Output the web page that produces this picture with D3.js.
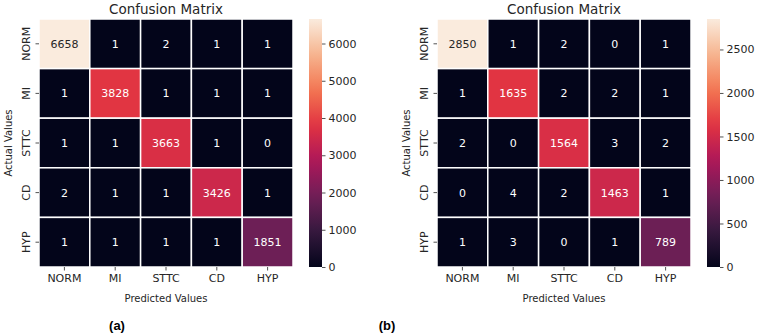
<!DOCTYPE html>
<html>
<head>
<meta charset="utf-8">
<script src="https://cdn.jsdelivr.net/npm/d3@7"></script>
<style>
  body { margin: 0; background: #fff; }
  svg text { font-family: "DejaVu Sans", sans-serif; fill: #262626; }
</style>
</head>
<body>
<div id="chart"></div>
<script>
// class labels (rows = actual, columns = predicted)
var classes = ["NORM", "MI", "STTC", "CD", "HYP"];

// confusion matrix (a)
var matrixA = [
  [6658, 1, 2, 1, 1],
  [1, 3828, 1, 1, 1],
  [1, 1, 3663, 1, 0],
  [2, 1, 1, 3426, 1],
  [1, 1, 1, 1, 1851]
];

// confusion matrix (b)
var matrixB = [
  [2850, 1, 2, 0, 1],
  [1, 1635, 2, 2, 1],
  [2, 0, 1564, 3, 2],
  [0, 4, 2, 1463, 1],
  [1, 3, 0, 1, 789]
];

var cbTicksA = [0, 1000, 2000, 3000, 4000, 5000, 6000];
var cbTicksB = [0, 500, 1000, 1500, 2000, 2500];
var panelLabels = ["(a)", "(b)"];

// seaborn "rocket" colormap stops
var rocketStops = ["#03051a", "#35193e", "#701f57", "#ad1759", "#e13342", "#f37651", "#f6b48f", "#faebdd"];
var rocket = d3.scaleLinear()
  .domain(d3.range(rocketStops.length).map(i => i / (rocketStops.length - 1)))
  .range(rocketStops)
  .interpolate(d3.interpolateRgb);

var svgWidth = 757, svgHeight = 335;
var svg = d3.select("#chart").append("svg")
  .attr("width", svgWidth)
  .attr("height", svgHeight);

function drawPanel(matrix, ticks, left, idx) {
  var top = 19, size = 254, height = 248;
  var vmax = d3.max(matrix, r => d3.max(r));
  var vmin = d3.min(matrix, r => d3.min(r));
  var color = d3.scaleLinear().domain([vmin, vmax]).range([0, 1]);

  var x = d3.scaleBand().domain(classes).range([0, size]);
  var y = d3.scaleBand().domain(classes).range([0, height]);

  var g = svg.append("g").attr("transform", `translate(${left}, ${top})`);

  var cells = [];
  matrix.forEach(function(row, i) {
    row.forEach(function(v, j) {
      cells.push({ actual: classes[i], predicted: classes[j], value: v });
    });
  });

  g.selectAll("rect.cell")
    .data(cells)
    .enter()
    .append("rect")
    .attr("class", "cell")
    .attr("x", d => x(d.predicted))
    .attr("y", d => y(d.actual))
    .attr("width", x.bandwidth())
    .attr("height", y.bandwidth())
    .attr("fill", d => rocket(color(d.value)))
    .attr("stroke", "#fff")
    .attr("stroke-width", 1.5);

  g.selectAll("text.annot")
    .data(cells)
    .enter()
    .append("text")
    .attr("class", "annot")
    .attr("x", d => x(d.predicted) + x.bandwidth() / 2)
    .attr("y", d => y(d.actual) + y.bandwidth() / 2)
    .attr("dy", "0.36em")
    .attr("text-anchor", "middle")
    .style("font-size", "11px")
    .style("fill", d => color(d.value) > 0.6 ? "#262626" : "#ffffff")
    .text(d => d.value);

  // axes
  var xAxis = g.append("g")
    .attr("transform", `translate(0, ${height})`)
    .call(d3.axisBottom(x).tickSize(3.5).tickPadding(4));
  var yAxis = g.append("g")
    .call(d3.axisLeft(y).tickSize(3.5).tickPadding(4));
  [xAxis, yAxis].forEach(function(a) {
    a.select(".domain").remove();
    a.selectAll("line").attr("stroke", "#262626").attr("stroke-width", 0.8);
    a.selectAll("text").style("font-size", "11px").attr("fill", "#262626");
  });
  yAxis.selectAll("text")
    .attr("transform", "rotate(-90)")
    .attr("x", 0)
    .attr("y", -9)
    .attr("dy", 0)
    .attr("text-anchor", "middle");

  // title + axis labels
  g.append("text")
    .attr("x", size / 2)
    .attr("y", -5.5)
    .attr("text-anchor", "middle")
    .style("font-size", "13.5px")
    .text("Confusion Matrix");

  g.append("text")
    .attr("x", size / 2)
    .attr("y", height + 35)
    .attr("text-anchor", "middle")
    .style("font-size", "10px")
    .text("Predicted Values");

  g.append("text")
    .attr("transform", `translate(-27, ${height / 2}) rotate(-90)`)
    .attr("text-anchor", "middle")
    .style("font-size", "10px")
    .text("Actual Values");

  // colorbar
  var cbX = size + 16, cbW = 13;
  var gradId = "grad" + idx;
  var grad = svg.append("defs").append("linearGradient")
    .attr("id", gradId)
    .attr("x1", 0).attr("y1", 1).attr("x2", 0).attr("y2", 0);
  d3.range(0, 1.0001, 0.05).forEach(function(t) {
    grad.append("stop").attr("offset", t).attr("stop-color", rocket(t));
  });
  g.append("rect")
    .attr("x", cbX)
    .attr("y", 0)
    .attr("width", cbW)
    .attr("height", height)
    .attr("fill", `url(#${gradId})`);

  var cbScale = d3.scaleLinear().domain([vmin, vmax]).range([height, 0]);
  var cbAxis = g.append("g")
    .attr("transform", `translate(${cbX + cbW}, 0)`)
    .call(d3.axisRight(cbScale).tickValues(ticks).tickFormat(d3.format("d")).tickSize(3.5).tickPadding(3));
  cbAxis.select(".domain").remove();
  cbAxis.selectAll("line").attr("stroke", "#262626").attr("stroke-width", 0.8);
  cbAxis.selectAll("text").style("font-size", "11px").attr("fill", "#262626");

  // panel label
  svg.append("text")
    .attr("x", idx === 0 ? 117 : 387)
    .attr("y", 330)
    .attr("text-anchor", "middle")
    .style("font-family", "'Liberation Sans', Arial, sans-serif")
    .style("font-weight", "bold")
    .style("font-size", "13px")
    .style("fill", "#000")
    .text(panelLabels[idx]);
}

drawPanel(matrixA, cbTicksA, 39, 0);
drawPanel(matrixB, cbTicksB, 437, 1);
</script>
</body>
</html>
